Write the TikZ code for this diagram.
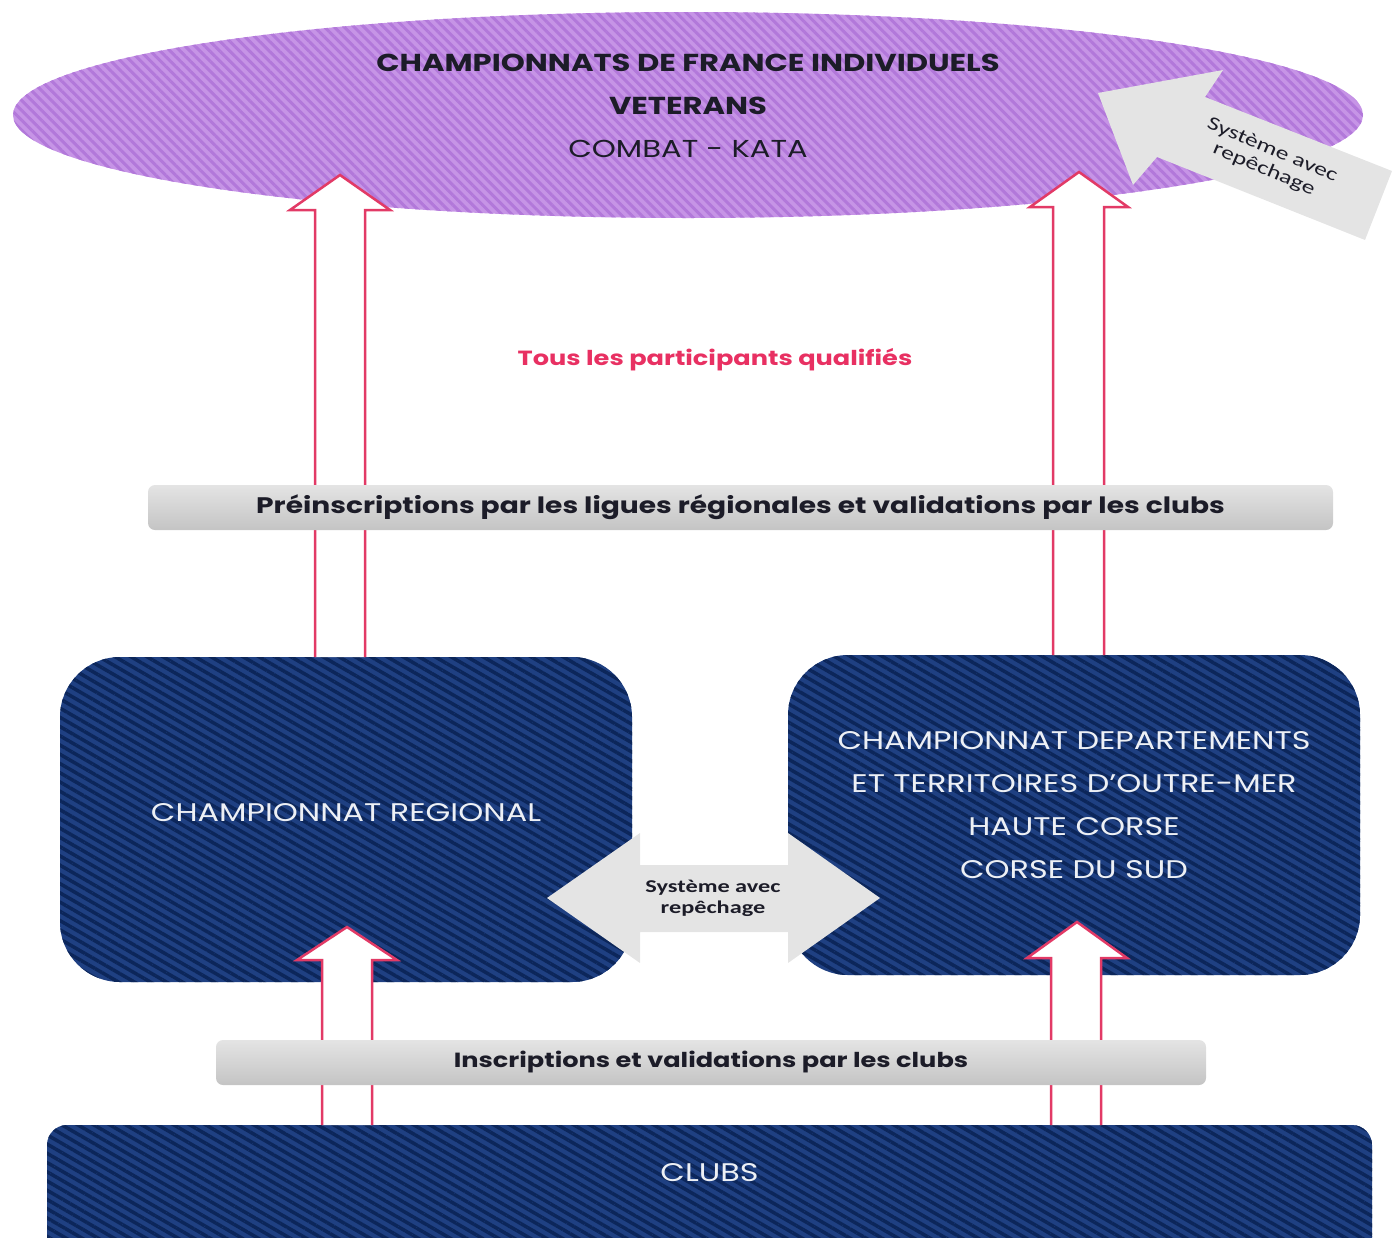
\documentclass[tikz,border=0pt]{standalone}
\usepackage{fontspec}
\setmainfont{Poppins}[FakeStretch=1.25]
\newfontfamily\calfont{Carlito}[FakeStretch=1.35]
\definecolor{navyblue}{RGB}{31, 64, 130}
\definecolor{navydark}{RGB}{12, 38, 90}
\definecolor{lilac}{RGB}{198, 148, 230}
\definecolor{lilacdark}{RGB}{178, 120, 218}
\definecolor{arrowpink}{RGB}{226, 58, 102}
\definecolor{textpink}{RGB}{232, 48, 98}
\definecolor{barlight}{RGB}{228, 228, 228}
\definecolor{bardark}{RGB}{196, 196, 196}
\definecolor{repgray}{RGB}{228, 228, 228}
\definecolor{inktext}{RGB}{28, 28, 40}
\usetikzlibrary{shapes, arrows.meta, positioning, calc, patterns.meta}

\begin{document}
\begin{tikzpicture}[x=1pt, y=-1pt,
  champ/.style={preaction={fill=navyblue}, pattern={Lines[angle=-30, distance=8pt, line width=3.5pt]},
                pattern color=navydark, rounded corners=60pt, inner sep=0pt},
  boxtext/.style={font=\fontsize{25.5}{43}\selectfont, text=white!92!navyblue, align=center},
  bar/.style={rounded corners=7pt, top color=barlight, bottom color=bardark, inner sep=0pt,
              text=inktext},
  upar/.style={draw=arrowpink, line width=2.5pt, fill=white, line join=miter},
  rep/.style={fill=repgray},
]
\useasboundingbox (0,0) rectangle (1394,1237);
\clip (0,0) rectangle (1394,1237);

% French championships
\node[ellipse, preaction={fill=lilac}, pattern={Lines[angle=-45, distance=7pt, line width=3pt]},
      pattern color=lilacdark, minimum width=1350pt, minimum height=206pt, inner sep=0pt] (france) at (688,115) {};
\node[font=\fontsize{24.5}{43}\selectfont, text=inktext, align=center] (title) at (688,106)
     {\textbf{CHAMPIONNATS DE FRANCE INDIVIDUELS}\\\textbf{VETERANS}\\COMBAT - KATA};

% tilted arrow
\fill[rep] (1098,93) -- (1223,70) -- (1205,97) -- (1392,171) -- (1365,240) -- (1157,157) -- (1133,185) -- cycle;
\node[font=\calfont\fontsize{19}{21}\selectfont, text=inktext, align=center, rotate=-23] (reptop) at (1268,160)
     {Système avec\\repêchage};

% championships boxes
\node[champ, minimum width=572pt, minimum height=325pt] (regional) at (346,819.5) {};
\node[champ, minimum width=572pt, minimum height=320pt] (outremer) at (1074,815) {};
\node[champ, rounded corners=20pt, minimum width=1325pt, minimum height=150pt] (clubs) at (709.5,1200) {};

\node[boxtext] at ([yshift=7pt]regional.center) {CHAMPIONNAT REGIONAL};
\node[boxtext] at ([yshift=10pt]outremer.center)
     {CHAMPIONNAT DEPARTEMENTS\\ET TERRITOIRES D'OUTRE-MER\\HAUTE CORSE\\CORSE DU SUD};
\node[boxtext] at ([yshift=27pt]clubs.center) {CLUBS};

% qualification arrows
\filldraw[upar] (315,657) -- (315,210) -- (290,210) -- (340,175) -- (390,210) -- (365,210) -- (365,657);
\filldraw[upar] (1053,655) -- (1053,207) -- (1030,207) -- (1079,172) -- (1128,207) -- (1104,207) -- (1104,655);
\filldraw[upar] (322,1125) -- (322,960) -- (297,960) -- (347,927) -- (397,960) -- (372,960) -- (372,1125);
\filldraw[upar] (1051,1125) -- (1051,958) -- (1027,958) -- (1077,922) -- (1127,958) -- (1101,958) -- (1101,1125);

\node[font=\fontsize{20.5}{22}\selectfont\bfseries, text=textpink] (qualif) at (715,360) {Tous les participants qualifiés};

% registration bars
\node[bar, minimum width=1185pt, minimum height=45pt, font=\fontsize{22.5}{24}\selectfont\bfseries] (prebar) at (740.5,507.5)
     {Préinscriptions par les ligues régionales et validations par les clubs};
\node[bar, minimum width=990pt, minimum height=45pt, font=\fontsize{20.5}{22}\selectfont\bfseries] (insbar) at (711,1062.5)
     {Inscriptions et validations par les clubs};

% repechage between the two
\fill[rep] (547,898) -- (640,833) -- (640,865) -- (788,865) -- (788,833) -- (880,898) -- (788,963) -- (788,932)
     -- (640,932) -- (640,963) -- cycle;
\node[font=\calfont\bfseries\fontsize{18}{21}\selectfont, text=inktext, align=center] (repmid) at (713,898) {Système avec\\repêchage};
\end{tikzpicture}
\end{document}
